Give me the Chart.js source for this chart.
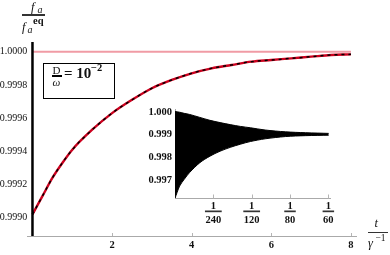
<!DOCTYPE html>
<html><head><meta charset="utf-8">
<script src="https://cdn.jsdelivr.net/npm/chart.js@4.4.1/dist/chart.umd.min.js"></script>
<style>
html,body{margin:0;padding:0;background:#fff;}
#wrap{position:relative;width:390px;height:255px;overflow:hidden;font-family:"Liberation Serif","DejaVu Serif",serif;color:#111;}
canvas{position:absolute;}
.t{position:absolute;line-height:1;white-space:nowrap;}
.bar{position:absolute;background:#333;}
#box{position:absolute;left:43px;top:63px;width:72px;height:36px;border:1.5px solid #000;box-sizing:border-box;background:#fff;}
</style></head><body>
<div id="wrap">
<canvas id="main" width="390" height="255" style="left:0;top:0"></canvas>
<div id="box"></div>
<span class="t" style="left:52.5px;top:65.1px;font-size:11px;">D</span>
<div class="bar" style="left:51.7px;top:75.4px;width:10px;height:1.2px;background:#000"></div>
<span class="t" style="left:52.5px;top:77.3px;font-size:11px;font-style:italic;">ω</span>
<span class="t" style="left:64px;top:66.4px;font-size:15px;font-weight:bold;">= 10</span>
<span class="t" style="left:91px;top:62.9px;font-size:10.5px;font-weight:bold;">−2</span>

<span class="t" style="left:31px;top:0.5px;font-size:12.5px;font-style:italic;">f</span>
<span class="t" style="left:37.5px;top:4.6px;font-size:10px;font-style:italic;">a</span>
<div class="bar" style="left:22px;top:14.3px;width:23px;height:1.6px;"></div>
<span class="t" style="left:22px;top:20.5px;font-size:12.5px;font-style:italic;">f</span>
<span class="t" style="left:27.5px;top:24.6px;font-size:10px;font-style:italic;">a</span>
<span class="t" style="left:33px;top:15.7px;font-size:10.5px;font-weight:bold;">eq</span>

<span class="t" style="left:374.5px;top:216.6px;font-size:12.5px;font-style:italic;">t</span>
<div class="bar" style="left:368px;top:231.6px;width:20px;height:1.6px;"></div>
<span class="t" style="left:368px;top:236.5px;font-size:12.5px;font-style:italic;">γ</span>
<span class="t" style="left:375.5px;top:233.7px;font-size:9.5px;">−1</span>

<canvas id="inset" width="215" height="130" style="left:130px;top:100px"></canvas>
</div>
<script>
// ---- data ----
const timeT   = [0, 0.25, 0.5, 0.75, 1, 1.5, 2, 2.5, 3, 3.5, 4, 4.5, 5, 5.5, 6, 6.5, 7, 7.5, 8];
const approxF = [0.99902, 0.99913, 0.99924, 0.99933, 0.99941, 0.99953, 0.99963, 0.99971, 0.99978, 0.99983,
                 0.99987, 0.99990, 0.99992, 0.99994, 0.99995, 0.99996, 0.99997, 0.99998, 0.999984];
const eqT = [0, 8];
const eqF = [1, 1];
const initT = [0, 0];
const initF = [0.9962, 1.0001];
const insetT     = [0, 0.0005, 0.001, 0.0016, 0.0027, 0.0038, 0.0049, 0.006, 0.0071, 0.0082, 0.0098, 0.012, 0.0142, 0.0167];
const insetUpper = [1.00003, 1.0, 0.99995, 0.9999, 0.99977, 0.99964, 0.99954, 0.99945, 0.99937, 0.99931, 0.99921, 0.99913, 0.99909, 0.99906];
const insetLower = [0.99618, 0.99672, 0.99702, 0.99733, 0.99776, 0.99805, 0.99827, 0.99844, 0.99858, 0.99870, 0.99882, 0.99892, 0.99896, 0.99898];
const mainXTicks  = [0, 2, 4, 6, 8];
const mainXLabels = ['', '2', '4', '6', '8'];
const mainYTicks  = [0.999, 0.9992, 0.9994, 0.9996, 0.9998, 1.0];
const insetXTicks = [1/240, 1/120, 1/80, 1/60];
const insetXNum   = ['1', '1', '1', '1'];
const insetXDen   = ['240', '120', '80', '60'];
const insetYTicks = [0.997, 0.998, 0.999, 1.0];

const FONT = '"Liberation Serif","DejaVu Serif",serif';
const pts = (xs, ys) => xs.map((x, i) => ({x: x, y: ys[i]}));

const innerTicks = {
  id: 'innerTicks',
  afterDraw(chart, args, opts) {
    const ctx = chart.ctx, xs = chart.scales.x;
    ctx.save();
    ctx.strokeStyle = '#b5b5b5';
    ctx.lineWidth = 1;
    (opts.values || []).forEach(v => {
      const px = Math.round(xs.getPixelForValue(v)) + 0.5;
      ctx.beginPath();
      ctx.moveTo(px, xs.top);
      ctx.lineTo(px, xs.top - opts.len);
      ctx.stroke();
    });
    ctx.restore();
  }
};

const fracBars = {
  id: 'fracBars',
  afterDraw(chart) {
    const ctx = chart.ctx, xs = chart.scales.x;
    ctx.save();
    ctx.font = 'bold 10.5px ' + FONT;
    ctx.fillStyle = '#333';
    insetXTicks.forEach((v, i) => {
      const px = xs.getPixelForValue(v);
      const w = ctx.measureText(insetXDen[i]).width + 1;
      ctx.fillRect(px - w / 2, xs.top + 12, w, 1.7);
    });
    ctx.restore();
  }
};

new Chart(document.getElementById('main'), {
  type: 'line',
  data: {
    datasets: [
      {data: pts(eqT, eqF), borderColor: 'rgb(240,155,165)', borderWidth: 2, pointRadius: 0, order: 4},
      {data: pts(timeT, approxF), borderColor: 'rgb(205,0,30)', borderWidth: 2.4, pointRadius: 0, cubicInterpolationMode: 'monotone', order: 3},
      {data: pts(timeT, approxF), borderColor: '#000', borderWidth: 1.5, borderDash: [3, 4], pointRadius: 0, cubicInterpolationMode: 'monotone', order: 2},
      {data: pts(initT, initF), borderColor: '#000', borderWidth: 2.5, pointRadius: 0, clip: 0, order: 1}
    ]
  },
  options: {
    responsive: false, animation: false, devicePixelRatio: 1,
    layout: {padding: {top: 42, right: 33.9, left: 0, bottom: 0}},
    plugins: {legend: {display: false}, tooltip: {enabled: false}, innerTicks: {values: [2, 4, 6, 8], len: 3}},
    scales: {
      x: {
        type: 'linear', min: -0.13, max: 8.13,
        afterBuildTicks: s => { s.ticks = mainXTicks.map(v => ({value: v})); },
        afterFit: s => { s.height = 19; },
        ticks: {callback: (v, i) => mainXLabels[i], font: {family: FONT, size: 10.5, weight: 'bold'}, color: '#111', padding: 0, maxRotation: 0, autoSkip: false},
        grid: {display: true, drawOnChartArea: false, drawTicks: true, tickLength: 3, color: 'rgba(0,0,0,0)'},
        border: {display: true, color: '#aaa', width: 1}
      },
      y: {
        type: 'linear', min: 0.99889, max: 1.0000584,
        afterBuildTicks: s => { s.ticks = mainYTicks.map(v => ({value: v})); },
        afterFit: s => { s.width = 27.3; },
        ticks: {callback: v => v.toFixed(4), font: {family: FONT, size: 10}, color: '#111', padding: 0, autoSkip: false},
        grid: {display: true, drawOnChartArea: false, drawTicks: false},
        border: {display: false}
      }
    }
  },
  plugins: [innerTicks]
});

new Chart(document.getElementById('inset'), {
  type: 'line',
  data: {
    datasets: [
      {data: pts(insetT, insetUpper), borderColor: '#000', borderWidth: 1, backgroundColor: '#000', fill: '+1', pointRadius: 0, tension: 0.3},
      {data: pts(insetT, insetLower), borderColor: '#000', borderWidth: 1, pointRadius: 0, fill: false, tension: 0.3}
    ]
  },
  options: {
    responsive: false, animation: false, devicePixelRatio: 1,
    layout: {padding: {top: 7, right: 14.5, left: 0, bottom: 0}},
    plugins: {legend: {display: false}, tooltip: {enabled: false}, innerTicks: {values: insetXTicks, len: 4}},
    scales: {
      x: {
        type: 'linear', min: 0, max: 0.0169,
        afterBuildTicks: s => { s.ticks = insetXTicks.map(v => ({value: v})); },
        afterFit: s => { s.height = 31.5; },
        ticks: {callback: (v, i) => [insetXNum[i], insetXDen[i]], font: {family: FONT, size: 10.5, weight: 'bold', lineHeight: 1.3}, color: '#111', padding: 1, maxRotation: 0, autoSkip: false},
        grid: {display: true, drawOnChartArea: false, drawTicks: false},
        border: {display: true, color: '#aaa', width: 1}
      },
      y: {
        type: 'linear', min: 0.99617, max: 1.00013,
        afterBuildTicks: s => { s.ticks = insetYTicks.map(v => ({value: v})); },
        afterFit: s => { s.width = 45; },
        ticks: {callback: v => v.toFixed(3), font: {family: FONT, size: 10.5, weight: 'bold'}, color: '#111', padding: 3, autoSkip: false},
        grid: {display: true, drawOnChartArea: false, drawTicks: false},
        border: {display: true, color: '#aaa', width: 1}
      }
    }
  },
  plugins: [innerTicks, fracBars]
});
</script>
</body></html>
